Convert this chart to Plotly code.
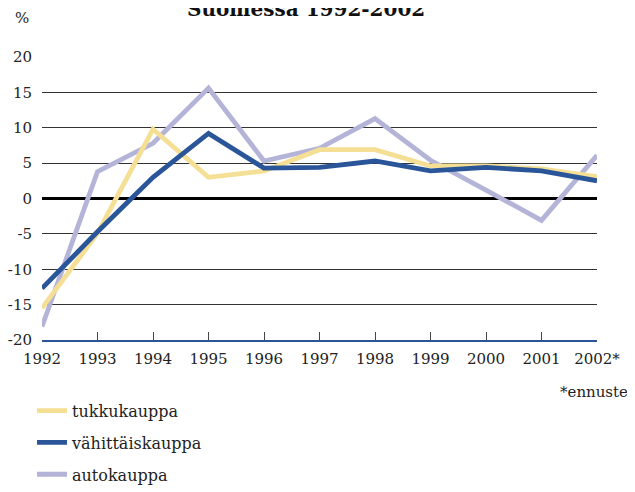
import plotly.graph_objects as go

years = [1992, 1993, 1994, 1995, 1996, 1997, 1998, 1999, 2000, 2001, 2002]
year_labels = ["1992", "1993", "1994", "1995", "1996", "1997", "1998", "1999", "2000", "2001", "2002*"]
tukkukauppa = [-15.5, -4.9, 9.8, 3.0, 3.9, 6.9, 6.9, 4.6, 4.6, 4.2, 3.1]
vahittais = [-12.7, -4.7, 3.0, 9.2, 4.3, 4.4, 5.3, 3.9, 4.4, 3.9, 2.5]
autokauppa = [-18.1, 3.8, 7.8, 15.6, 5.3, 7.1, 11.3, 5.4, 1.2, -3.1, 6.1]
y_ticks = [-20, -15, -10, -5, 0, 5, 10, 15, 20]
y_labels = ["-20", "-15", "-10", "-5", "0", "5", "10", "15", "20"]

FONT = "DejaVu Serif"

fig = go.Figure()
series = [
    ("autokauppa", autokauppa, "#b4b4d8", 3),
    ("tukkukauppa", tukkukauppa, "#f5df95", 1),
    ("vähittäiskauppa", vahittais, "#2a5599", 2),
]
for name, vals, col, rank in series:
    fig.add_trace(go.Scatter(x=years, y=vals, mode="lines", name=name,
                             legendgroup=name, legendrank=rank,
                             line=dict(color=col, width=4.8)))

fig.update_layout(
    width=627, height=484,
    margin=dict(l=34, r=38, t=49, b=152, autoexpand=False),
    plot_bgcolor="white", paper_bgcolor="white",
    font=dict(family=FONT, size=15, color="#222"),
    showlegend=True,
    legend=dict(x=-0.018, y=-0.19, xanchor="left", yanchor="top",
                traceorder="grouped", tracegroupgap=8,
                font=dict(size=16, family=FONT, color="#222"),
                bgcolor="rgba(0,0,0,0)"),
    xaxis=dict(range=[1992, 2002], tickvals=years, ticktext=year_labels,
               ticks="inside", ticklen=8, tickcolor="#444", tickwidth=1,
               showgrid=False, zeroline=False, automargin=False,
               showline=True, linecolor="#2a5599", linewidth=2,
               ticklabelstandoff=4,
               tickfont=dict(size=15, family=FONT, color="#222")),
    yaxis=dict(range=[-20, 20], tickvals=y_ticks, ticktext=y_labels,
               showgrid=True, gridcolor="#333", gridwidth=1, automargin=False,
               zeroline=True, zerolinecolor="#000", zerolinewidth=2.5,
               showline=False, ticks="", ticklabelstandoff=9,
               tickfont=dict(size=15, family=FONT, color="#222")),
)

fig.add_annotation(text="<b>Suomessa 1992-2002</b>", x=0.475, y=1.17, xref="paper", yref="paper",
                   xanchor="center", yanchor="middle", showarrow=False,
                   font=dict(size=20, family=FONT, color="#111"))
fig.add_annotation(text="%", x=-0.036, y=1.138, xref="paper", yref="paper",
                   xanchor="center", yanchor="middle", showarrow=False,
                   font=dict(size=15, family=FONT, color="#222"))
fig.add_annotation(text="*ennuste", x=1.06, y=-0.184, xref="paper", yref="paper",
                   xanchor="right", yanchor="middle", showarrow=False,
                   font=dict(size=15, family=FONT, color="#222"))

fig.write_html("out.html")
